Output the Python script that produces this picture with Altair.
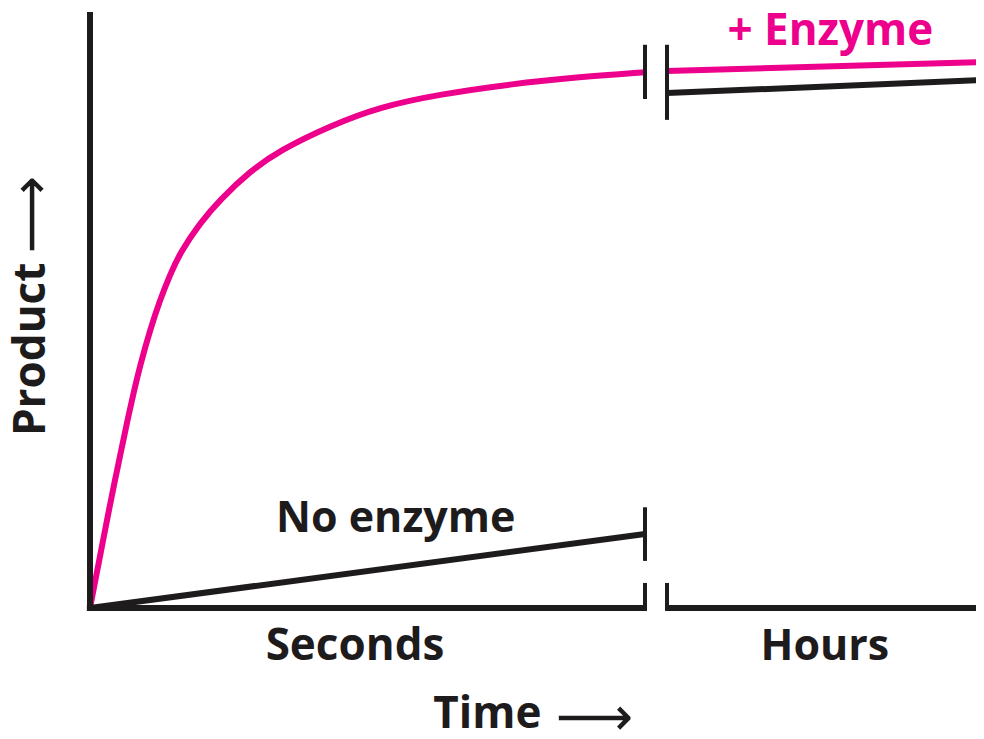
import altair as alt
import pandas as pd

# ---- data (arbitrary units: time 0-100 across the plot, product 0-100) ----
enz_t = [0, 0.67, 1.34, 2.01, 2.80, 3.47, 4.25, 4.92, 5.59, 6.71, 7.83, 8.95, 10.07,
         12.30, 14.54, 17.90, 21.25, 26.85, 32.44, 39.15, 46.98, 54.81, 62.08]
enz_p = [0, 5.2, 10.4, 15.6, 21.5, 26.3, 31.9, 36.4, 40.6, 46.6, 51.7, 55.9, 59.6,
         64.6, 68.5, 73.3, 76.8, 80.9, 84.1, 86.2, 87.9, 89.1, 89.9]
enz_hours_t = [64.54, 100]
enz_hours_p = [90.1, 91.6]
noenz_t = [0, 62.08]
noenz_p = [0, 12.4]
noenz_hours_t = [64.54, 100]
noenz_hours_p = [86.4, 88.6]

break_t = [62.08, 64.54]

PINK = "#EC008C"
BLACK = "#1E1B1C"
FONT = "Open Sans"
ARROW_FONT = "DejaVu Sans"

xs = alt.Scale(domain=[0, 99.1], nice=False, zero=False)
ys = alt.Scale(domain=[0, 100], nice=False, zero=False)
X = lambda f: alt.X(f, type="quantitative", scale=xs, axis=None)
Y = lambda f: alt.Y(f, type="quantitative", scale=ys, axis=None)

enz = pd.DataFrame({"t": enz_t, "p": enz_p})
enz_h = pd.DataFrame({"t": enz_hours_t, "p": enz_hours_p})
no = pd.DataFrame({"t": noenz_t, "p": noenz_p})
no_h = pd.DataFrame({"t": noenz_hours_t, "p": noenz_hours_p})

pink_curve = alt.Chart(enz).mark_line(color=PINK, strokeWidth=6, interpolate="basis").encode(
    x=X("t"), y=Y("p"))
pink_hours = alt.Chart(enz_h).mark_line(color=PINK, strokeWidth=6).encode(x=X("t"), y=Y("p"))
black_line = alt.Chart(no).mark_line(color=BLACK, strokeWidth=6).encode(x=X("t"), y=Y("p"))
black_hours = alt.Chart(no_h).mark_line(color=BLACK, strokeWidth=6).encode(x=X("t"), y=Y("p"))

# axes (drawn as rules because of the broken x axis)
axes_v = pd.DataFrame({"x": [0], "y": [-0.5], "y2": [100]})
axes_h = pd.DataFrame({"x": [-0.35, break_t[1]], "x2": [break_t[0], 100], "y": [0, 0]})
y_axis = alt.Chart(axes_v).mark_rule(color=BLACK, strokeWidth=6).encode(
    x=X("x"), y=Y("y"), y2="y2")
x_axis = alt.Chart(axes_h).mark_rule(color=BLACK, strokeWidth=6).encode(
    x=X("x"), x2="x2", y=Y("y"))

ticks = pd.DataFrame({
    "x": [break_t[0], break_t[1], break_t[0], break_t[1], break_t[0]],
    "y": [-0.5, -0.5, 85.4, 81.9, 7.9],
    "y2": [4.2, 4.2, 94.5, 94.5, 16.9],
})
break_marks = alt.Chart(ticks).mark_rule(color=BLACK, strokeWidth=4).encode(
    x=X("x"), y=Y("y"), y2="y2")

def label(x, y, text, size, color=BLACK, align="center", baseline="alphabetic",
          font=FONT, weight="bold", angle=0):
    df = pd.DataFrame({"x": [x], "y": [y], "text": [text]})
    kw = dict(font=font, fontWeight=weight, fontSize=size, color=color,
              align=align, baseline=baseline)
    if angle:
        kw["angle"] = angle
    return alt.Chart(df).mark_text(**kw).encode(x=X("x"), y=Y("y"), text="text")

lab_sec = label(29.64, -8.7, "Seconds", 44)
lab_hrs = label(82.2, -8.7, "Hours", 43)
lab_no = label(20.8, 12.8, "No enzyme", 43, align="left")
lab_enz = label(71.3, 94.5, "+ Enzyme", 44, color=PINK, align="left")
lab_time = label(38.4, -20.1, "Time", 44, align="left")
arr_time = label(52.1, -18.6, "\u27f6", 54, align="left", baseline="middle",
                 font=ARROW_FONT, weight="normal")
lab_prod = label(-6.5, 43.4, "Product", 44, baseline="middle", angle=270)
arr_prod = label(-6.4, 66.0, "\u27f6", 54, baseline="middle", angle=270,
                 font=ARROW_FONT, weight="normal")

chart = alt.layer(
    pink_curve, pink_hours, black_line, black_hours,
    y_axis, x_axis, break_marks,
    lab_sec, lab_hrs, lab_no, lab_enz, lab_time, arr_time, lab_prod, arr_prod,
).properties(
    width=886, height=596,
    background="white",
    autosize=alt.AutoSizeParams(type="none"),
    padding={"left": 82, "top": 4, "right": 0, "bottom": 123},
).configure_view(strokeWidth=0, stroke="transparent")

chart.save("out.html", embed_options={"renderer": "svg", "actions": False})
